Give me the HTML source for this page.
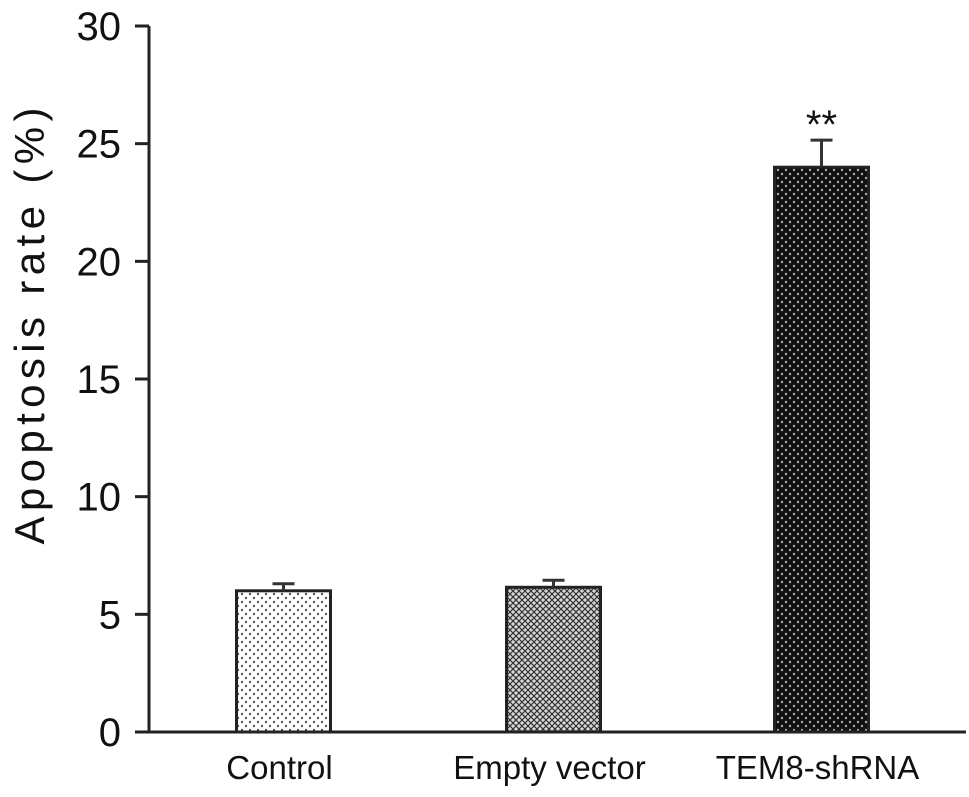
<!DOCTYPE html>
<html><head><meta charset="utf-8"><style>
html,body{margin:0;padding:0;background:#fff;}
svg{display:block;font-family:"Liberation Sans",Arial,sans-serif;}
</style></head><body>
<svg id="chart" width="969" height="797" viewBox="0 0 969 797">
<defs>
<pattern id="pDots" width="8" height="8" patternUnits="userSpaceOnUse">
<rect width="8" height="8" fill="#fff"/><circle cx="2" cy="2" r="1.2" fill="#555"/><circle cx="6" cy="6" r="1.2" fill="#555"/>
</pattern>
<pattern id="pCross" width="6" height="6" patternUnits="userSpaceOnUse">
<rect width="6" height="6" fill="#d8d8d8"/><path d="M0,0L6,6M6,0L0,6" stroke="#333" stroke-width="1.2"/>
</pattern>
<pattern id="pDark" width="8" height="8" patternUnits="userSpaceOnUse">
<rect width="8" height="8" fill="#111"/><circle cx="2" cy="2" r="1.2" fill="#aaa"/><circle cx="6" cy="6" r="1.2" fill="#aaa"/>
</pattern>
</defs>
<g id="plot"></g>
</svg>
<script>
const categories = ["Control", "Empty vector", "TEM8-shRNA"];
const values = [6.0, 6.15, 24.0];
const errors = [0.3, 0.3, 1.15];
const sigLabels = ["", "", "**"];
const yTicks = [0, 5, 10, 15, 20, 25, 30];

const NS = "http://www.w3.org/2000/svg";
const g = document.getElementById("plot");
const y0 = 732, yTop = 26, yMax = 30;
const y = v => y0 - (y0 - yTop) * v / yMax;
const centers = [283.5, 553.5, 821.5];
const x = i => centers[i];
const barW = 94;
const fills = ["url(#pDots)", "url(#pCross)", "url(#pDark)"];
function mk(tag, attrs) { const e = document.createElementNS(NS, tag); for (const k in attrs) e.setAttribute(k, attrs[k]); g.appendChild(e); return e; }

// y axis
let ax = mk("line", {x1:149, y1:yTop, x2:149, y2:y0, stroke:"#222", "stroke-width":3});


yTicks.forEach(t => {
  const tk = mk("line", {x1:135, y1:y(t), x2:149, y2:y(t), stroke:"#222", "stroke-width":3});
  
  
  const tl = mk("text", {x:121, y:y(t)+14, "text-anchor":"end", "font-size":40, fill:"#111"});
  tl.textContent = t;
  
  
});
const yt = mk("text", {x:0, y:0, "text-anchor":"middle", "font-size":42, fill:"#111", textLength:437, lengthAdjust:"spacing", transform:"translate(44,326) rotate(-90)"});
yt.textContent = "Apoptosis rate (%)";



// bars
categories.forEach((c, i) => {
  const top = y(values[i]);
  const b = mk("rect", {x:x(i)-barW/2, y:top, width:barW, height:y0-top, fill:fills[i], stroke:"#222", "stroke-width":3});
  
  
  const ey = y(values[i] + errors[i]);
  const el = mk("path", {d:`M${x(i)},${top} L${x(i)},${ey} M${x(i)-11},${ey} L${x(i)+11},${ey}`, stroke:"#333", "stroke-width":3, fill:"none"});
  
  
  if (sigLabels[i]) {
    const s = mk("text", {x:x(i), y:ey-2, "text-anchor":"middle", "font-size":40, fill:"#111"});
    s.textContent = sigLabels[i];
    
    
  }
  const lbl = mk("text", {x:x(i)-4, y:779, "text-anchor":"middle", "font-size":33, fill:"#111"});
  lbl.textContent = c;
  
  
});

// x axis
const xa = mk("line", {x1:135, y1:y0, x2:966, y2:y0, stroke:"#222", "stroke-width":3});


</script>
</body></html>
